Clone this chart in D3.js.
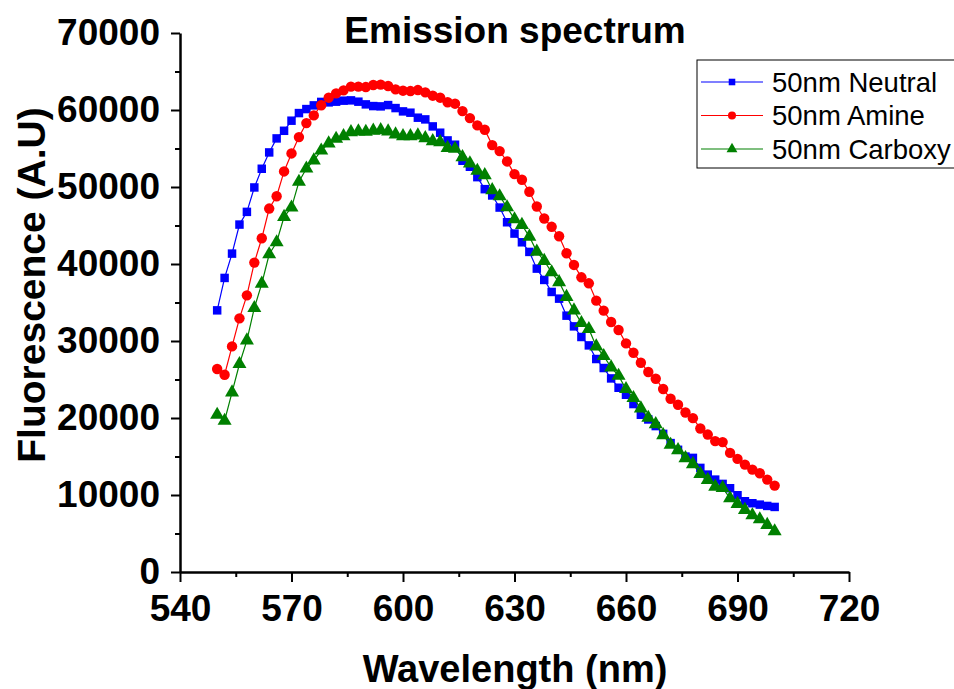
<!DOCTYPE html>
<html lang="en">
<head>
    <meta charset="UTF-8">
    <title>Emission spectrum</title>
    <script src="https://cdn.jsdelivr.net/npm/d3@7/dist/d3.min.js"></script>
    <style>
        body { margin: 0; background: #fff; }
        svg { display: block; font-family: Arial, "Liberation Sans", sans-serif; }
    </style>
</head>
<body>
<script>

    // wavelength grid (nm)
    var wavelengths = [550, 552, 554, 556, 558, 560, 562, 564, 566, 568, 570, 572, 574, 576, 578,
        580, 582, 584, 586, 588, 590, 592, 594, 596, 598, 600, 602, 604, 606, 608, 610, 612, 614, 616, 618,
        620, 622, 624, 626, 628, 630, 632, 634, 636, 638, 640, 642, 644, 646, 648, 650, 652, 654, 656, 658,
        660, 662, 664, 666, 668, 670, 672, 674, 676, 678, 680, 682, 684, 686, 688, 690, 692, 694, 696, 698, 700];

    var neutral = [33980, 38190, 41350, 45120, 46770, 49940, 52370, 54490, 56310, 57300, 58610, 59600, 60120, 60600, 61050,
        60990, 61080, 61210, 61250, 61080, 60730, 60510, 60470, 60640, 60250, 59820, 59650, 59000, 58780, 57870, 57050, 56050, 55490, 53410, 52630,
        51280, 49720, 48900, 47330, 45420, 43950, 42820, 41570, 39400, 37930, 36370, 35500, 33290, 31900, 30520, 29430, 27660, 26490, 25140, 23930,
        23020, 21810, 20420, 19810, 18950, 17940, 16740, 15870, 14990, 14820, 13520, 12650, 12000, 11440, 10880, 9970, 9190, 8930, 8750, 8580, 8450];

    var amine = [26360, 25620, 29300, 32940, 35930, 40180, 43340, 47200, 48800, 52020, 54360, 56480, 58300, 59300, 60620,
        61600, 62160, 62550, 63030, 63030, 62980, 63240, 63290, 63110, 62680, 62510, 62460, 62590, 62290, 61860, 61600, 61000, 60820, 59860, 58950,
        58000, 57440, 55440, 54660, 53320, 51670, 50940, 49380, 47470, 45910, 44830, 43600, 41390, 39880, 38270, 37490, 35240, 33940, 32470, 31430,
        29690, 28480, 27180, 25970, 25100, 23760, 22500, 21720, 20720, 19980, 18640, 17850, 17000, 16870, 15470, 14690, 13950, 13300, 12830, 12000, 11220];

    var carboxy = [20420, 19640, 23320, 27010, 30080, 34290, 37450, 41260, 42820, 46120, 47330, 50680, 52400, 53450, 54730,
        55660, 56270, 56610, 57130, 57220, 57180, 57310, 57390, 57220, 56830, 56610, 56610, 56700, 56350, 55960, 55830, 55080, 54970, 53880, 53060,
        52110, 51540, 49590, 48800, 47370, 45810, 45080, 43560, 41610, 40400, 38920, 37650, 35730, 33980, 32340, 31560, 29300, 28050, 26570, 25490,
        23760, 22590, 21240, 20030, 19210, 17780, 16520, 15820, 14780, 14000, 12740, 11960, 11090, 10920, 9580, 8840, 8060, 7370, 6850, 6110, 5290];

    var seriesNames = ["50nm Neutral", "50nm Amine", "50nm Carboxy"];
    var xTicks = [540, 570, 600, 630, 660, 690, 720];
    var yTicks = [0, 10000, 20000, 30000, 40000, 50000, 60000, 70000];

    var width = 954, height = 689;
    var series = [
        {name: seriesNames[0], values: neutral, color: "#0000ff", symbol: d3.symbolSquare, size: 72},
        {name: seriesNames[1], values: amine, color: "#ff0000", symbol: d3.symbolCircle, size: 85},
        {name: seriesNames[2], values: carboxy, color: "#008000", symbol: d3.symbolTriangle, size: 85}
    ];

    var x = d3.scaleLinear().domain([540, 720]).range([180, 849]);
    var y = d3.scaleLinear().domain([0, 70000]).range([572, 33]);

    var svg = d3.select("body").append("svg")
        .attr("width", width)
        .attr("height", height);

    // minor ticks
    svg.append("g")
        .attr("transform", "translate(0,572)")
        .call(d3.axisBottom(x).tickValues(d3.range(555, 720, 30)).tickSize(5).tickFormat(""))
        .call(function(g){ g.select(".domain").remove(); g.selectAll("line").attr("stroke-width", 2); });
    svg.append("g")
        .attr("transform", "translate(180,0)")
        .call(d3.axisLeft(y).tickValues(d3.range(5000, 70000, 10000)).tickSize(5).tickFormat(""))
        .call(function(g){ g.select(".domain").remove(); g.selectAll("line").attr("stroke-width", 2); });

    var xAxis = svg.append("g")
        .attr("transform", "translate(0,572)")
        .call(d3.axisBottom(x).tickValues(xTicks).tickSize(10).tickSizeOuter(0).tickPadding(13));
    var yAxis = svg.append("g")
        .attr("transform", "translate(180,0)")
        .call(d3.axisLeft(y).tickValues(yTicks).tickSize(9).tickSizeOuter(0).tickPadding(11)
            .tickFormat(function(d){ return d; }));

    [xAxis, yAxis].forEach(function(g){
        g.select(".domain").attr("stroke-width", 2.5);
        g.selectAll(".tick line").attr("stroke-width", 2);
        g.selectAll(".tick text")
            .attr("fill", "#000")
            .style("font-size", "37px")
            .style("font-weight", "bold")
            .style("font-family", "Arial, 'Liberation Sans', sans-serif");
    });

    var line = d3.line()
        .x(function(d, i){ return x(wavelengths[i]); })
        .y(function(d){ return y(d); });

    series.forEach(function(s){
        svg.append("path")
            .datum(s.values)
            .attr("fill", "none")
            .attr("stroke", s.color)
            .attr("stroke-width", 1.2)
            .attr("d", line);
        svg.append("g").selectAll("path")
            .data(s.values)
            .enter().append("path")
            .attr("transform", function(d, i){ return "translate(" + x(wavelengths[i]) + "," + y(d) + ")"; })
            .attr("d", d3.symbol().type(s.symbol).size(s.size))
            .attr("fill", s.color);
    });

    // titles
    svg.append("text")
        .attr("x", 515).attr("y", 43)
        .attr("text-anchor", "middle")
        .style("font-size", "37px").style("font-weight", "bold")
        .text("Emission spectrum");
    svg.append("text")
        .attr("x", 515).attr("y", 682)
        .attr("text-anchor", "middle")
        .style("font-size", "38px").style("font-weight", "bold")
        .text("Wavelength (nm)");
    svg.append("text")
        .attr("transform", "translate(45,285) rotate(-90)")
        .attr("text-anchor", "middle")
        .style("font-size", "39px").style("font-weight", "bold")
        .text("Fluorescence (A.U)");

    // legend
    var legend = svg.append("g").attr("transform", "translate(697,60)");
    legend.append("rect")
        .attr("width", 300).attr("height", 108)
        .attr("fill", "#fff").attr("stroke", "#000").attr("stroke-width", 1);
    series.forEach(function(s, i){
        var row = legend.append("g").attr("transform", "translate(0," + (22 + i * 33.5) + ")");
        row.append("line").attr("x1", 4).attr("x2", 66).attr("stroke", s.color).attr("stroke-width", 1.2);
        row.append("path").attr("transform", "translate(35,0)")
            .attr("d", d3.symbol().type(s.symbol).size(s.size * 0.6)).attr("fill", s.color);
        row.append("text").attr("x", 75).attr("y", 9.5)
            .style("font-size", "27.5px")
            .text(s.name);
    });
</script>
</body>
</html>
